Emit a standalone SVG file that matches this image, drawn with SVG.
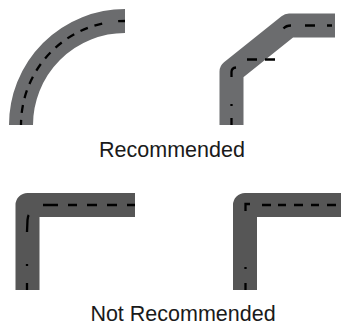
<svg xmlns="http://www.w3.org/2000/svg" width="341" height="326" viewBox="0 0 341 326">
<style>
.road1{fill:none;stroke:#6b6c6e;stroke-width:24;stroke-linejoin:round}
.road2{fill:none;stroke:#565656;stroke-width:24;stroke-linejoin:round}
.dash{fill:none;stroke:#000;stroke-width:2.3}
.lbl{font-family:"Liberation Sans",Arial,sans-serif;font-size:21.5px;fill:#1a1a1a;text-anchor:middle}
</style>
<rect width="341" height="326" fill="#fff"/>
<g id="curve-recommended">
<path class="road1" d="M125,21 A104,104 0 0 0 21,125"/>
<path class="dash" d="M125,21 A104,104 0 0 0 21,125" stroke-dasharray="7 16 8 7 8 7 8 7 8 7 8 7 8 7 8 7 8 7 8 7 8 7 8 7"/>
</g>
<g id="angled-recommended">
<path class="road1" stroke-width="23" d="M231.5,125 V71.5 L289,25.5 H335"/>
<path class="dash" d="M231.5,125 V118 M231.5,106 V104 M231.5,77 V72 Q231.5,68 236,67.5 M247,59.5 H257 M265,59.5 H275 M283.5,28.5 Q286,25.5 291,25.5 M305,25.5 H315 M327,25.5 H332"/>
</g>
<g id="corner-not-recommended-1">
<path class="road2" d="M27.5,290 V205 H135"/>
<path class="dash" d="M27,290 V283 M27,266 V264 M27,232 L27.5,220 Q28,216 28.7,215 M43,205 H58 M68,205 H77 M87,205 H97 M107,205 H117 M127,205 H135"/>
</g>
<g id="corner-not-recommended-2">
<path class="road2" d="M245,290 V205 H341"/>
<path class="dash" d="M245.5,290 V283 M245.5,269 V267 M245.5,211 V204 H250 M262,205 H271 M278,205 H286 M294,205 H303 M311,205 H319 M327,205 H336"/>
</g>
<g id="labels">
<text class="lbl" x="172" y="157">Recommended</text>
<text class="lbl" x="183" y="321">Not Recommended</text>
</g>
</svg>
